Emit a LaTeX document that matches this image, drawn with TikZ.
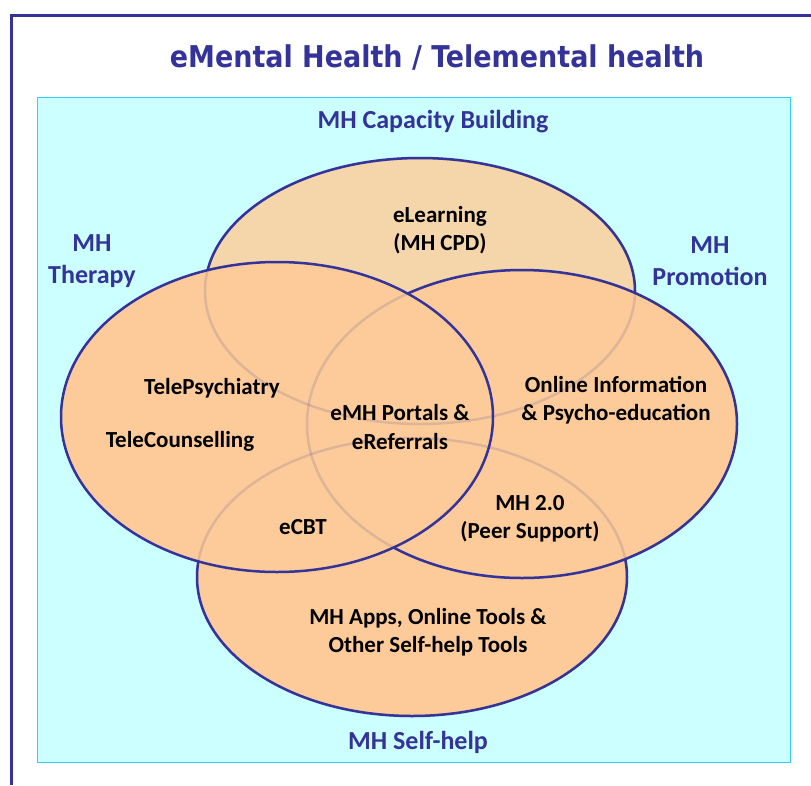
\documentclass[tikz,border=0pt]{standalone}
\usepackage{fontspec}
\setmainfont{Carlito}
\newfontfamily\titlefont{DejaVu Sans Condensed}
\definecolor{mhblue}{HTML}{333399}
\definecolor{mhcyan}{HTML}{CCFFFF}
\definecolor{mhedge}{HTML}{33CCFF}
\definecolor{mhpeach}{HTML}{F5D5AA}
\definecolor{mhorange}{HTML}{FDCB9A}

\begin{document}
\begin{tikzpicture}[x=1pt,y=-1pt,
  venn/.style={draw=mhblue,line width=2.5pt},
  ghost/.style={draw=mhblue,draw opacity=.15,line width=2.5pt},
  area/.style={font=\bfseries\fontsize{26}{32}\selectfont,text=mhblue,align=center},
  item/.style={font=\bfseries\fontsize{23}{28.5}\selectfont,align=center}]
	\useasboundingbox (0,0) rectangle (811,785);
	\draw[mhblue,line width=3pt] (811,15) -- (11,15) -- (11,785);
	\draw[fill=mhcyan,draw=mhedge,line width=1pt] (37,97) rectangle (790,762);

	\node[font=\titlefont\bfseries\fontsize{30}{34}\selectfont,text=mhblue] (title) at (437,57) {eMental Health / Telemental health};

	% the four circles, back to front
	\draw[venn,fill=mhpeach] (420,291) ellipse [x radius=215,y radius=133];
	\draw[venn,fill=mhorange] (412,577) ellipse [x radius=215,y radius=139];
	\draw[venn,fill=mhorange] (522,424) ellipse [x radius=215,y radius=154];
	\draw[venn,fill=mhorange] (277,417) ellipse [x radius=216,y radius=155];
	% hidden edges shine through
	\draw[ghost] (420,291) ellipse [x radius=215,y radius=133];
	\draw[ghost] (412,577) ellipse [x radius=215,y radius=139];
	\draw[ghost] (522,424) ellipse [x radius=215,y radius=154];

	\node[area] (capacity) at (433,122) {MH Capacity Building};
	\node[area] (therapy) at (92,261) {MH\\Therapy};
	\node[area] (promotion) at (710,261) {MH\\Promotion};
	\node[area] (selfhelp) at (418,742) {MH Self-help};

	\node[item] (elearn) at (440,230) {eLearning\\(MH CPD)};
	\node[item] (psych) at (212,388) {TelePsychiatry};
	\node[item] (couns) at (180,441) {TeleCounselling};
	\node[item] (portal) at (400,427) {eMH Portals \&\\eReferrals};
	\node[item] (online) at (616,400) {Online Information\\\& Psycho-education};
	\node[item] (ecbt) at (303,527) {eCBT};
	\node[item] (peer) at (530,519) {MH 2.0\\(Peer Support)};
	\node[item] (apps) at (428,632) {MH Apps, Online Tools \&\\Other Self-help Tools};
\end{tikzpicture}
\end{document}
